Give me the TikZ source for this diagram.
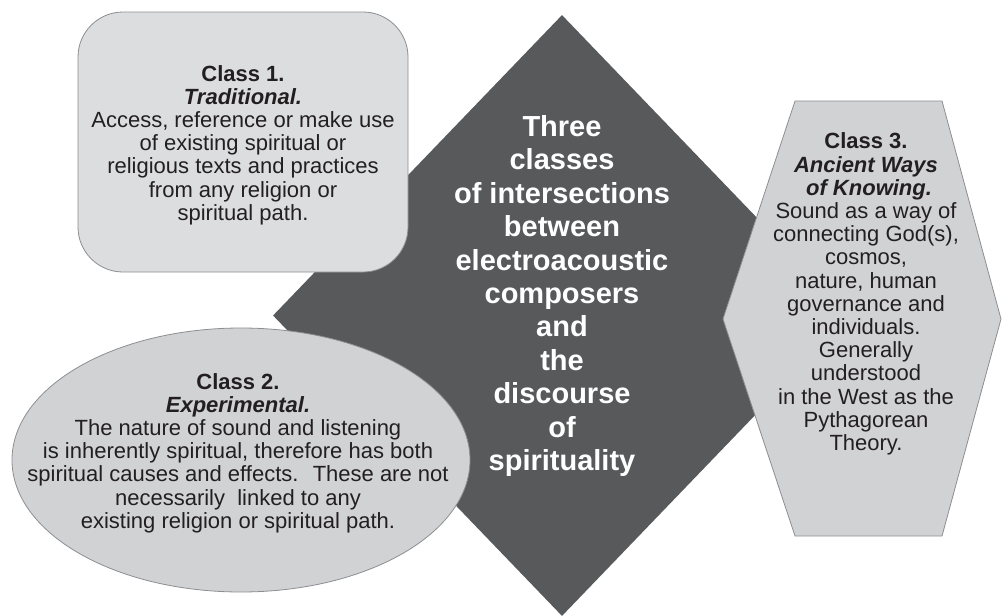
\documentclass[tikz,border=0pt]{standalone}
\usepackage{fontspec}
\setmainfont{Liberation Sans}
\usetikzlibrary{shapes.geometric}

\definecolor{coregrey}{HTML}{58595B}
\definecolor{panelgrey}{HTML}{D1D2D4}
\definecolor{lightpanel}{HTML}{DCDDDF}
\definecolor{edgegrey}{HTML}{8C8E91}
\definecolor{inkgrey}{HTML}{231F20}

\begin{document}
\begin{tikzpicture}[x=1pt, y=-1pt,
  panel/.style={draw=edgegrey, line width=0.8pt, fill=panelgrey, inner sep=0pt},
  blurb/.style={align=center, text=inkgrey, inner sep=0pt,
    font=\fontsize{22}{23.2}\selectfont},
  headline/.style={align=center, text=white, inner sep=0pt,
    font=\bfseries\fontsize{29}{33.4}\selectfont}
]
\useasboundingbox (0,0) rectangle (1002,616);

% dark diamond in the middle, the three classes overlap it
\node[diamond, fill=coregrey, inner sep=0pt,
  minimum width=578pt, minimum height=601pt] (core) at (562,315.5) {};

\node[panel, fill=lightpanel, rounded corners=45pt,
  minimum width=330pt, minimum height=260pt] (trad) at (243,142) {};
\node[panel, ellipse, minimum width=458pt, minimum height=264pt] (expt) at (241,460) {};
\draw[panel] (723,319) -- (795,101) -- (942,101) -- (1001,319)
  -- (942,536) -- (795,536) -- cycle;

% texts
\node[headline] (coretext) at (562,296)
  {Three\\classes\\of intersections\\between\\electroacoustic\\composers\\and\\the\\discourse\\of\\spirituality};
\node[blurb] (tradtext) at (243,145)
  {\textbf{Class 1.}\\\textbf{\itshape Traditional.}\\Access, reference or make use\\of existing spiritual or\\religious texts and practices\\from any religion or\\spiritual path.};
\node[blurb] (expttext) at (238,453)
  {\textbf{Class 2.}\\\textbf{\itshape Experimental.}\\The nature of sound and listening\\is inherently spiritual, therefore has both\\spiritual causes and effects.~ These are not\\necessarily~ linked to any\\existing religion or spiritual path.};
\node[blurb] (anctext) at (866,294)
  {\textbf{Class 3.}\\\textbf{\itshape Ancient Ways}\\\textbf{\itshape \ of Knowing.}\\Sound as a way of\\connecting God(s),\\cosmos,\\nature, human\\governance and\\individuals.\\Generally\\understood\\in the West as the\\Pythagorean\\Theory.};
\end{tikzpicture}
\end{document}
